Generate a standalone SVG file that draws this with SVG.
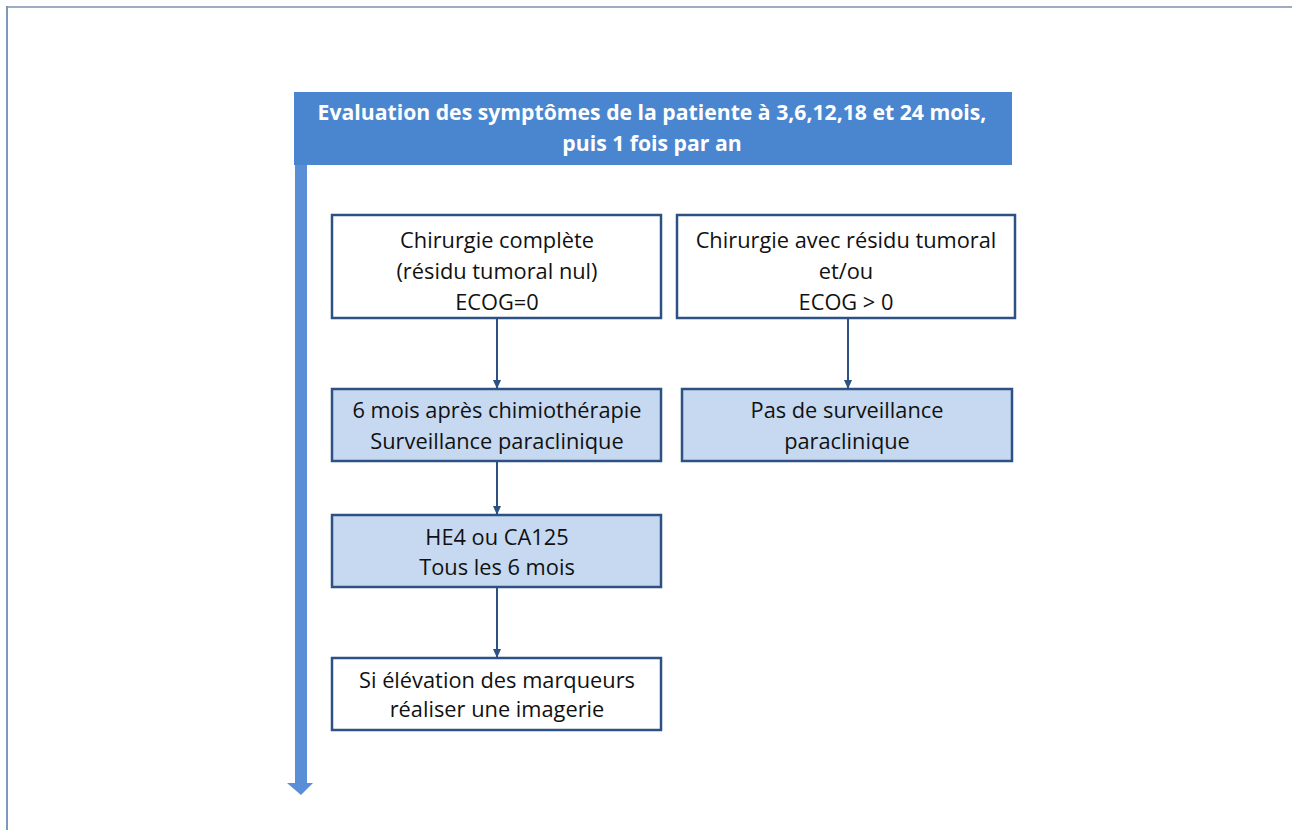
<svg xmlns="http://www.w3.org/2000/svg" width="1292" height="830" viewBox="0 0 1292 830">
<style>
.box{stroke:#2C5182;stroke-width:2.5}
.w{fill:#FFFFFF}
.lb{fill:#C6D9F1}
.t{font-family:"Open Sans","Liberation Sans",sans-serif;font-size:21.8px;fill:#111111;text-anchor:middle}
.h{font-family:"Open Sans","Liberation Sans",sans-serif;font-size:21.2px;font-weight:bold;fill:#FFFFFF;text-anchor:middle}
.c{stroke:#2C5182;stroke-width:2;fill:none}
</style>
<defs>
<marker id="ah" markerWidth="10" markerHeight="10" refX="8" refY="5" orient="auto" markerUnits="userSpaceOnUse">
<path d="M0,1 L9,5 L0,9 Z" fill="#2C5182"/>
</marker>
</defs>
<rect width="1292" height="830" fill="#FFFFFF"/>
<g id="frame">
<line x1="6" y1="7" x2="1292" y2="7" stroke="#9DAEC4" stroke-width="2"/>
<line x1="7" y1="6" x2="7" y2="830" stroke="#7E98BC" stroke-width="2"/>
</g>
<g id="timeline">
<rect x="295" y="160" width="12" height="624" fill="#5A8ED6"/>
<path d="M287,783 L313,783 L301,795 Z" fill="#5A8ED6"/>
</g>
<g id="header">
<rect x="294" y="92" width="718" height="73" fill="#4A86D0"/>
<text class="h" x="652" y="120">Evaluation des symptômes de la patiente à 3,6,12,18 et 24 mois,</text>
<text class="h" x="652" y="151">puis 1 fois par an</text>
</g>
<g id="connectors">
<line class="c" x1="497" y1="318" x2="497" y2="388" marker-end="url(#ah)"/>
<line class="c" x1="848" y1="318" x2="848" y2="388" marker-end="url(#ah)"/>
<line class="c" x1="497" y1="461" x2="497" y2="514" marker-end="url(#ah)"/>
<line class="c" x1="497" y1="588" x2="497" y2="657" marker-end="url(#ah)"/>
</g>
<g id="n1">
<rect class="box w" x="332" y="215" width="329" height="103"/>
<text class="t" x="497" y="248">Chirurgie complète</text>
<text class="t" x="497" y="279">(résidu tumoral nul)</text>
<text class="t" x="497" y="310">ECOG=0</text>
</g>
<g id="n2">
<rect class="box w" x="677" y="215" width="338" height="103"/>
<text class="t" x="846" y="248">Chirurgie avec résidu tumoral</text>
<text class="t" x="846" y="279">et/ou</text>
<text class="t" x="846" y="310">ECOG &gt; 0</text>
</g>
<g id="n3">
<rect class="box lb" x="332" y="389" width="329" height="72"/>
<text class="t" x="497" y="418">6 mois après chimiothérapie</text>
<text class="t" x="497" y="449">Surveillance paraclinique</text>
</g>
<g id="n4">
<rect class="box lb" x="682" y="389" width="330" height="72"/>
<text class="t" x="847" y="418">Pas de surveillance</text>
<text class="t" x="847" y="449">paraclinique</text>
</g>
<g id="n5">
<rect class="box lb" x="332" y="515" width="329" height="72"/>
<text class="t" x="497" y="545">HE4 ou CA125</text>
<text class="t" x="497" y="575">Tous les 6 mois</text>
</g>
<g id="n6">
<rect class="box w" x="332" y="658" width="329" height="72"/>
<text class="t" x="497" y="688">Si élévation des marqueurs</text>
<text class="t" x="497" y="717">réaliser une imagerie</text>
</g>
</svg>
